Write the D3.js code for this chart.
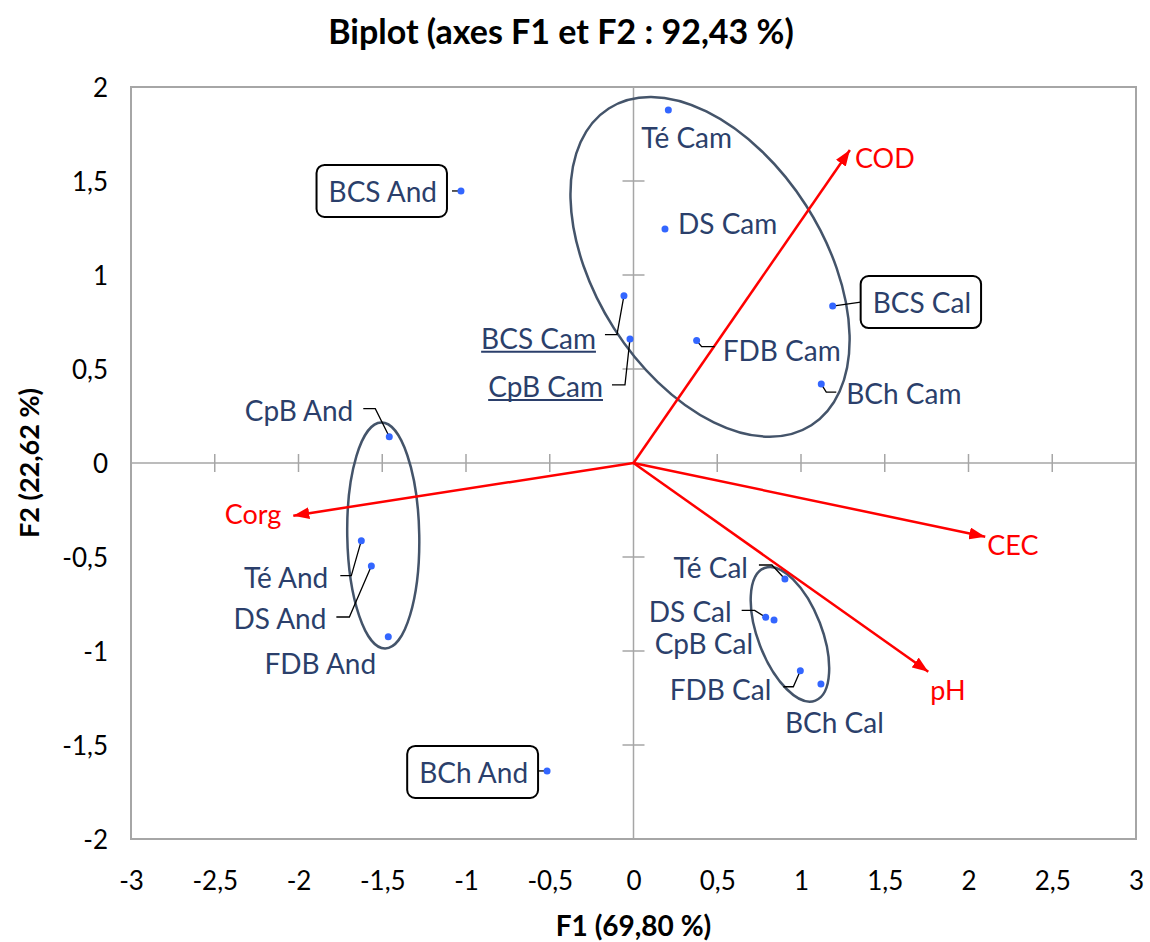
<!DOCTYPE html>
<html>
<head>
<meta charset="utf-8">
<script src="https://cdn.jsdelivr.net/npm/d3@7"></script>
<style>
  body { margin: 0; background: #fff; }
  svg { display: block; }
  .lbl { font-family: Lato, 'Liberation Sans', sans-serif; }
</style>
</head>
<body>
<div id="chart"></div>
<script>
// observations (F1, F2)
const obsNames = ['Té Cam', 'DS Cam', 'BCS Cam', 'CpB Cam', 'FDB Cam', 'BCS Cal', 'BCh Cam',
  'BCS And', 'CpB And', 'Té And', 'DS And', 'FDB And', 'BCh And',
  'Té Cal', 'DS Cal', 'CpB Cal', 'FDB Cal', 'BCh Cal'];
const obsF1 = [0.208, 0.188, -0.057, -0.021, 0.377, 1.189, 1.121,
  -1.030, -1.458, -1.625, -1.565, -1.464, -0.516,
  0.904, 0.789, 0.839, 0.996, 1.119];
const obsF2 = [1.878, 1.245, 0.890, 0.660, 0.651, 0.835, 0.420,
  1.447, 0.140, -0.413, -0.548, -0.924, -1.638,
  -0.617, -0.821, -0.835, -1.105, -1.176];

// variables (arrows)
const varNames = ['COD', 'Corg', 'CEC', 'pH'];
const varF1 = [1.292, -2.031, 2.10, 1.760];
const varF2 = [1.665, -0.280, -0.392, -1.110];

// group ellipses, centres in F1/F2
const groupNames = ['Cam', 'And', 'Cal'];
const groupF1 = [0.457, -1.494, 0.934];
const groupF2 = [1.043, -0.386, -0.911];

const xTicks = [-3, -2.5, -2, -1.5, -1, -0.5, 0, 0.5, 1, 1.5, 2, 2.5, 3];
const yTicks = [-2, -1.5, -1, -0.5, 0, 0.5, 1, 1.5, 2];

// label layout (pixel offsets from the point)
const labelLayout = {
  'Té Cam':  { dx: -27, dy: 27, anchor: 'start' },
  'DS Cam':  { dx: 13, dy: -6, anchor: 'start' },
  'BCS Cam': { dx: -28, dy: 42, anchor: 'end', under: true, leader: [[0, 0], [-7, 39], [-19, 39]] },
  'CpB Cam': { dx: -27, dy: 47, anchor: 'end', under: true, leader: [[0, 0], [-5, 46], [-18, 46]] },
  'FDB Cam': { dx: 26, dy: 9, anchor: 'start', leader: [[0, 0], [5, 6], [18, 6]] },
  'BCS Cal': { dx: 40, dy: -4, anchor: 'start', box: true, leader: [[0, 0], [28, -4]] },
  'BCh Cam': { dx: 25, dy: 9, anchor: 'start', leader: [[0, 0], [5, 8], [15, 8]] },
  'BCS And': { dx: -24, dy: 0, anchor: 'end', box: true, leader: [[0, 0], [-9, 0]] },
  'CpB And': { dx: -36, dy: -27, anchor: 'end', leader: [[0, 0], [-14, -28], [-26, -28]] },
  'Té And':  { dx: -33, dy: 36, anchor: 'end', leader: [[0, 0], [-10, 35], [-21, 35]] },
  'DS And':  { dx: -45, dy: 52, anchor: 'end', leader: [[0, 0], [-22, 51], [-35, 51]] },
  'FDB And': { dx: -68, dy: 26, anchor: 'middle' },
  'BCh And': { dx: -19, dy: 1, anchor: 'end', box: true, leader: [[0, 0], [-9, 0]] },
  'Té Cal':  { dx: -37, dy: -12, anchor: 'end', leader: [[0, 0], [-13, -14], [-26, -14]] },
  'DS Cal':  { dx: -34, dy: -6, anchor: 'end', leader: [[0, 0], [-11, -7], [-24, -7]] },
  'CpB Cal': { dx: -21, dy: 23, anchor: 'end' },
  'FDB Cal': { dx: -29, dy: 18, anchor: 'end', leader: [[0, 0], [-7, 16], [-17, 16]] },
  'BCh Cal': { dx: -36, dy: 38, anchor: 'start' }
};
const varLabelLayout = {
  COD:  { dx: 5, dy: 8, anchor: 'start' },
  Corg: { dx: -12, dy: -2, anchor: 'end' },
  CEC:  { dx: 2, dy: 8, anchor: 'start' },
  pH:   { dx: 2, dy: 18, anchor: 'start' }
};
const ellipseShape = {
  Cam: { rx: 188, ry: 114, angle: 57.4 },
  And: { rx: 113, ry: 36, angle: 89 },
  Cal: { rx: 71, ry: 32, angle: 69 }
};

const W = 1150, H = 942;
const margin = { top: 87, right: 14, bottom: 103, left: 131 };
const navy = '#2b3f6b';
const locale = d3.formatLocale({ decimal: ',', thousands: ' ', grouping: [3], currency: ['', ''] });
const fmt = v => locale.format('~g')(v).replace('−', '-');

const svg = d3.select('#chart').append('svg').attr('width', W).attr('height', H);

const x = d3.scaleLinear().domain([-3, 3]).range([margin.left, W - margin.right]);
const y = d3.scaleLinear().domain([-2, 2]).range([H - margin.bottom, margin.top]);

const defs = svg.append('defs');
defs.append('marker')
  .attr('id', 'arrow')
  .attr('viewBox', '0 0 16 12')
  .attr('refX', 16).attr('refY', 6)
  .attr('markerWidth', 16).attr('markerHeight', 12)
  .attr('markerUnits', 'userSpaceOnUse')
  .attr('orient', 'auto')
  .append('path').attr('d', 'M0,0 L16,6 L0,12 Z').attr('fill', '#ff0000');

// title
svg.append('text')
  .attr('class', 'lbl')
  .attr('x', 561).attr('y', 30)
  .attr('text-anchor', 'middle').attr('dominant-baseline', 'central')
  .attr('font-weight', 'bold').attr('font-size', 34)
  .text('Biplot (axes F1 et F2 : 92,43 %)');

// plot frame
svg.append('rect')
  .attr('x', x(-3)).attr('y', y(2))
  .attr('width', x(3) - x(-3)).attr('height', y(-2) - y(2))
  .attr('fill', 'none').attr('stroke', '#a6a6a6').attr('stroke-width', 2);

// zero lines with crossing ticks
svg.append('line')
  .attr('x1', x(-3)).attr('x2', x(3)).attr('y1', y(0)).attr('y2', y(0))
  .attr('stroke', '#a6a6a6').attr('stroke-width', 1.5);
svg.append('line')
  .attr('x1', x(0)).attr('x2', x(0)).attr('y1', y(2)).attr('y2', y(-2))
  .attr('stroke', '#a6a6a6').attr('stroke-width', 1.5);

svg.append('g').selectAll('line')
  .data(xTicks.filter(t => t !== 0 && Math.abs(t) !== 3))
  .join('line')
  .attr('x1', d => x(d)).attr('x2', d => x(d))
  .attr('y1', y(0) - 9).attr('y2', y(0) + 9)
  .attr('stroke', '#a6a6a6').attr('stroke-width', 1.5);
svg.append('g').selectAll('line')
  .data(yTicks.filter(t => t !== 0 && Math.abs(t) !== 2))
  .join('line')
  .attr('y1', d => y(d)).attr('y2', d => y(d))
  .attr('x1', x(0) - 11).attr('x2', x(0) + 11)
  .attr('stroke', '#a6a6a6').attr('stroke-width', 1.5);

// tick labels
const xAxis = svg.append('g')
  .attr('transform', `translate(0,${y(-2) + 30})`)
  .call(d3.axisBottom(x).tickValues(xTicks).tickSize(0).tickFormat(fmt));
const yAxis = svg.append('g')
  .attr('transform', `translate(${x(-3) - 23},0)`)
  .call(d3.axisLeft(y).tickValues(yTicks).tickSize(0).tickFormat(fmt));
[xAxis, yAxis].forEach(a => {
  a.select('.domain').remove();
  a.selectAll('text')
    .attr('class', 'lbl')
    .attr('font-size', 26)
    .attr('fill', '#000');
});
yAxis.selectAll('text').attr('x', 0).attr('dy', '0.35em');

// axis titles
svg.append('text')
  .attr('class', 'lbl')
  .attr('x', x(0)).attr('y', 925)
  .attr('text-anchor', 'middle').attr('dominant-baseline', 'central')
  .attr('font-weight', 'bold').attr('font-size', 28)
  .text('F1 (69,80 %)');
svg.append('text')
  .attr('class', 'lbl')
  .attr('transform', `translate(28,${y(0)}) rotate(-90)`)
  .attr('text-anchor', 'middle').attr('dominant-baseline', 'central')
  .attr('font-weight', 'bold').attr('font-size', 27)
  .text('F2 (22,62 %)');

// ellipses
svg.append('g').selectAll('ellipse')
  .data(groupNames.map((g, i) => ({ g, cx: groupF1[i], cy: groupF2[i] })))
  .join('ellipse')
  .attr('cx', d => x(d.cx)).attr('cy', d => y(d.cy))
  .attr('rx', d => ellipseShape[d.g].rx).attr('ry', d => ellipseShape[d.g].ry)
  .attr('transform', d => `rotate(${ellipseShape[d.g].angle},${x(d.cx)},${y(d.cy)})`)
  .attr('fill', 'none').attr('stroke', '#44546a').attr('stroke-width', 2.5);

// variable arrows
const vars = varNames.map((name, i) => ({ name, f1: varF1[i], f2: varF2[i] }));
svg.append('g').selectAll('line')
  .data(vars)
  .join('line')
  .attr('x1', x(0)).attr('y1', y(0))
  .attr('x2', d => x(d.f1)).attr('y2', d => y(d.f2))
  .attr('stroke', '#ff0000').attr('stroke-width', 2.5)
  .attr('marker-end', 'url(#arrow)');
svg.append('g').selectAll('text')
  .data(vars)
  .join('text')
  .attr('class', 'lbl')
  .attr('x', d => x(d.f1) + varLabelLayout[d.name].dx)
  .attr('y', d => y(d.f2) + varLabelLayout[d.name].dy)
  .attr('text-anchor', d => varLabelLayout[d.name].anchor)
  .attr('dominant-baseline', 'central')
  .attr('font-size', 27).attr('fill', '#ff0000')
  .text(d => d.name);

// observations
const obs = obsNames.map((name, i) => ({ name, f1: obsF1[i], f2: obsF2[i], lay: labelLayout[name] }));

const line = d3.line();
svg.append('g').selectAll('path')
  .data(obs.filter(d => d.lay.leader))
  .join('path')
  .attr('d', d => line(d.lay.leader.map(([dx, dy]) => [x(d.f1) + dx, y(d.f2) + dy])))
  .attr('fill', 'none').attr('stroke', '#000').attr('stroke-width', 1.3);

const labels = svg.append('g').selectAll('g')
  .data(obs)
  .join('g')
  .attr('transform', d => `translate(${x(d.f1) + d.lay.dx},${y(d.f2) + d.lay.dy})`);

labels.append('text')
  .attr('class', 'lbl')
  .attr('text-anchor', d => d.lay.anchor)
  .attr('dominant-baseline', 'central')
  .attr('font-size', 28).attr('fill', navy)
  .text(d => d.name);

labels.each(function(d) {
  const g = d3.select(this);
  const bb = g.select('text').node().getBBox();
  if (d.lay.box) {
    g.insert('rect', 'text')
      .attr('x', bb.x - 12).attr('y', -26)
      .attr('width', bb.width + 22).attr('height', 52)
      .attr('rx', 8)
      .attr('fill', '#fff').attr('stroke', '#000').attr('stroke-width', 2);
  }
  if (d.lay.under) {
    g.append('line')
      .attr('x1', bb.x).attr('x2', bb.x + bb.width)
      .attr('y1', 14).attr('y2', 14)
      .attr('stroke', navy).attr('stroke-width', 2);
  }
});

svg.append('g').selectAll('circle')
  .data(obs)
  .join('circle')
  .attr('cx', d => x(d.f1)).attr('cy', d => y(d.f2))
  .attr('r', 3.5)
  .attr('fill', '#3366ff');
</script>
</body>
</html>
